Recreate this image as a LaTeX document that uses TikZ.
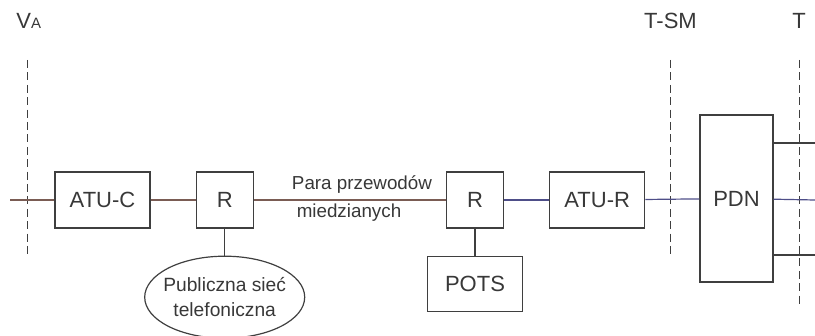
\documentclass[tikz,border=0pt]{standalone}
\usepackage{fontspec}
\setmainfont{Liberation Sans}
\usetikzlibrary{positioning,shapes.geometric}
\definecolor{ramka}{HTML}{3F3F3F}
\definecolor{napis}{HTML}{383838}
\definecolor{miedz}{HTML}{7A5C54}
\definecolor{cyfra}{HTML}{4E4E88}
\tikzset{
  blok/.style={rectangle, draw=ramka, line width=0.6pt, inner sep=0pt, text=napis,
               font=\fontsize{11}{13}\selectfont, minimum width=#1, minimum height=28pt},
  blok/.default=47.5pt,
  owal/.style={ellipse, draw=ramka, line width=0.6pt, inner xsep=-5pt, inner ysep=0pt, text=napis,
               align=center, font=\fontsize{9.6}{12.5}\selectfont, minimum width=80pt, minimum height=41pt},
  przew/.style={draw=#1, line width=0.6pt},
  granica/.style={draw=ramka, line width=0.5pt, dash pattern=on 4pt off 2.2pt},
  etyk/.style={text=napis, inner sep=0pt, font=\fontsize{#1}{12}\selectfont},
  etyk/.default=11,
}
\begin{document}
\begin{tikzpicture}[x=0.5pt, y=-0.5pt, node distance=22.5pt]
    \useasboundingbox (0,0) rectangle (815,336);
    \node[blok] (atuc) at (102.5,200) {ATU-C};
    \node[blok=28.5pt, right=of atuc] (r1) {R};
    \node[blok=28.5pt] (r2) at (475,200) {R};
    \node[blok, right=of r2] (atur) {ATU-R};
    \node[blok=36.5pt, minimum height=83.5pt] (pdn) at (736.5,198.5) {PDN};
    \node[blok, minimum height=27.5pt, below=13.5pt of r2] (pots) {POTS};
    \node[owal, below=13.5pt of r1] (psiec) {Publiczna sieć\\telefoniczna};
    \node[etyk=9.4, anchor=base] (para) at (362,190) {Para przewodów};
    \node[etyk=9.4, anchor=base] (mied) at (349,218) {miedzianych};
    \node[etyk, anchor=base west] (va) at (16,29) {V{\fontsize{7.5}{9}\selectfont A}};
    \node[etyk, anchor=base] (tsm) at (670.5,29) {T-SM};
    \node[etyk, anchor=base] (t) at (799,29) {T};
    \coordinate (wej) at (10,200);
    \coordinate (wyj1) at (815,143);
    \coordinate (wyj2) at (815,200);
    \coordinate (wyj3) at (815,255);
    \coordinate (ga1) at (27,60); \coordinate (ga2) at (27,255);
    \draw[granica] (ga1) -- (ga2);
    \draw[granica] (tsm.south |- ga1) -- (tsm.south |- ga2);
    \draw[granica] (t.south |- ga1) -- (t.south |- 0,307);
    \draw[przew=miedz] (wej) -- (atuc); \draw[przew=miedz] (atuc) -- (r1); \draw[przew=miedz] (r1) -- (r2);
    \draw[przew=cyfra] (r2) -- (atur); \draw[przew=cyfra] (atur) -- (pdn); \draw[przew=cyfra] (pdn) -- (wyj2);
    \draw[przew=ramka] (pdn.east |- wyj1) -- (wyj1); \draw[przew=ramka] (pdn.east |- wyj3) -- (wyj3);
    \draw[przew=ramka] (r1) -- (psiec); \draw[przew=ramka] (r2) -- (pots);
  \end{tikzpicture}
\end{document}
